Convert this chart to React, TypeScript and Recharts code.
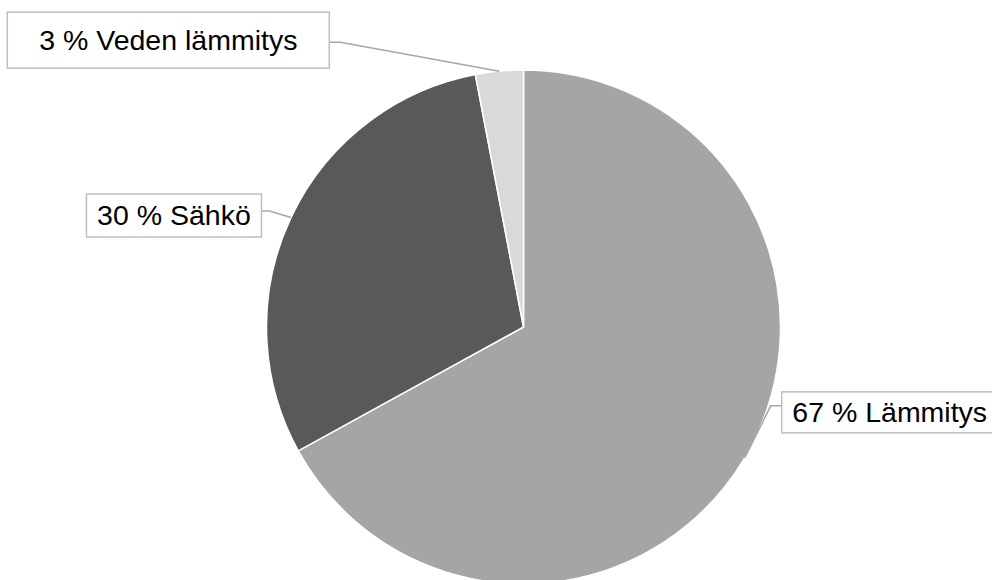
import React from 'react';
import { PieChart, Pie, Cell } from 'recharts';

const categories = ['Lämmitys', 'Sähkö', 'Veden lämmitys'];
const shares = [67, 30, 3];
const colors = ['#a5a5a5', '#595959', '#d9d9d9'];

const data = categories.map((name, i) => ({ name, value: shares[i] }));

// leader elbow offset from the slice edge, then box beside the elbow
const labelLayout = [
  { dx: 26, dy: -52, side: 'right', gap: 11, top: -14, w: 216, h: 41 },
  { dx: -21.5, dy: -6.6, side: 'left', gap: 8, top: -17, w: 175, h: 43 },
  { dx: -159, dy: -29, side: 'left', gap: 11, top: -30, w: 322, h: 56 },
];

const RAD = Math.PI / 180;

const renderLabel = (props: any) => {
  const { cx, cy, midAngle, outerRadius, index, name, value } = props;
  const l = labelLayout[index];
  const ax = cx + outerRadius * Math.cos(-midAngle * RAD);
  const ay = cy + outerRadius * Math.sin(-midAngle * RAD);
  const ex = ax + l.dx;
  const ey = ay + l.dy;
  const bx = l.side === 'right' ? ex + l.gap : ex - l.gap - l.w;
  const by = ey + l.top;
  const edgeX = l.side === 'right' ? bx : bx + l.w;
  return (
    <g key={`lbl-${index}`}>
      <polyline
        points={`${ax},${ay} ${ex},${ey} ${edgeX},${ey}`}
        fill="none"
        stroke="#a6a6a6"
        strokeWidth={1.5}
      />
      <rect x={bx} y={by} width={l.w} height={l.h} fill="#fff" stroke="#bfbfbf" strokeWidth={1.5} />
      <text
        x={bx + l.w / 2}
        y={by + l.h / 2}
        textAnchor="middle"
        dominantBaseline="central"
        fill="#000"
        fontSize={28.5}
        fontFamily="'Liberation Sans', Arial, sans-serif"
      >
        {`${value} % ${name}`}
      </text>
    </g>
  );
};

const App: React.FC = () => {
  return (
    <div style={{ position: 'absolute', left: 0, top: 0, width: 992, height: 580, background: '#fff' }}>
      <PieChart width={992} height={580} margin={{ top: 0, right: 0, bottom: 0, left: 0 }}>
        <Pie
          data={data}
          dataKey="value"
          nameKey="name"
          cx={523.5}
          cy={327}
          outerRadius={257}
          startAngle={90}
          endAngle={-270}
          stroke="#fff"
          strokeWidth={1.5}
          label={renderLabel}
          labelLine={false}
          isAnimationActive={false}
        >
          {data.map((d, i) => (
            <Cell key={d.name} fill={colors[i]} />
          ))}
        </Pie>
      </PieChart>
    </div>
  );
};

export default App;
